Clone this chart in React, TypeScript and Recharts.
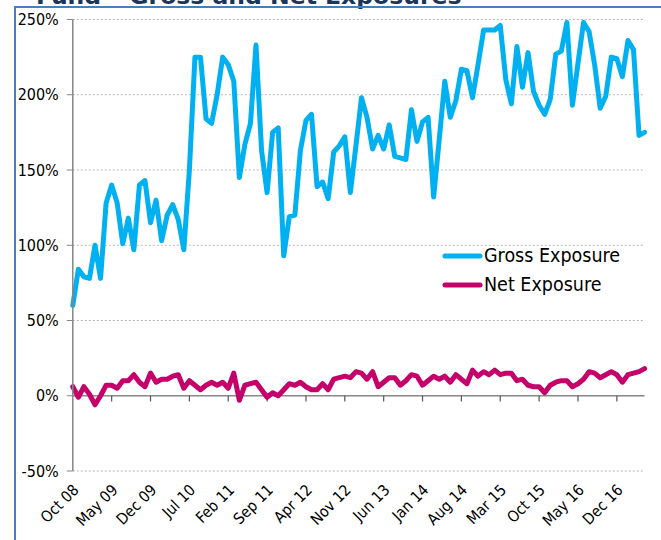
import React from 'react';
import { LineChart, Line, XAxis, YAxis, CartesianGrid, ReferenceLine, Legend } from 'recharts';

const FONT = "'DejaVu Sans Condensed', 'DejaVu Sans', sans-serif";

const MONTH_NAMES = ['Jan', 'Feb', 'Mar', 'Apr', 'May', 'Jun', 'Jul', 'Aug', 'Sep', 'Oct', 'Nov', 'Dec'];
const START_YEAR = 2008;
const START_MONTH = 9; // October

const GROSS = [
  60, 84, 79, 78, 100, 78, 128, 140, 128, 101,
  118, 97, 140, 143, 115, 130, 103, 120, 127, 117,
  97, 150, 225, 225, 184, 181, 200, 225, 220, 209,
  145, 167, 181, 233, 163, 135, 175, 178, 93, 119,
  120, 163, 183, 187, 139, 142, 131, 162, 166, 172,
  135, 166, 198, 185, 164, 173, 164, 180, 159, 158,
  157, 190, 169, 182, 185, 132, 170, 209, 185, 196,
  217, 216, 198, 220, 243, 243, 243, 246, 210, 194,
  232, 205, 228, 202, 193, 187, 197, 227, 229, 248,
  193, 221, 248, 242, 220, 191, 199, 225, 224, 212,
  236, 230, 173, 175,
];

const NET = [
  6, -1, 6, 1, -6, 0, 7, 7, 5, 10,
  10, 14, 9, 6, 15, 9, 11, 11, 13, 14,
  5, 10, 7, 4, 7, 9, 7, 9, 5, 15,
  -3, 7, 8, 9, 4, -1, 2, 0, 4, 8,
  7, 9, 6, 4, 4, 8, 4, 11, 12, 13,
  12, 16, 15, 11, 16, 6, 9, 12, 12, 7,
  10, 14, 13, 7, 10, 13, 11, 13, 9, 14,
  11, 8, 17, 13, 16, 14, 17, 14, 15, 15,
  10, 11, 7, 6, 6, 2, 7, 9, 10, 10,
  6, 8, 11, 16, 15, 12, 14, 16, 14, 9,
  14, 15, 16, 18,
];

const CATEGORIES = GROSS.map((_, i) => {
  const m = START_MONTH + i;
  const y = START_YEAR + Math.floor(m / 12);
  return `${MONTH_NAMES[m % 12]} ${String(y % 100).padStart(2, '0')}`;
});

const TICK_LABELS = [
  'Oct 08', 'May 09', 'Dec 09', 'Jul 10', 'Feb 11', 'Sep 11', 'Apr 12', 'Nov 12',
  'Jun 13', 'Jan 14', 'Aug 14', 'Mar 15', 'Oct 15', 'May 16', 'Dec 16',
];

const Y_TICKS = [-50, 0, 50, 100, 150, 200, 250];

const SERIES = [
  { key: 'gross', name: 'Gross Exposure', color: '#00b0f0' },
  { key: 'net', name: 'Net Exposure', color: '#c5006a' },
];

const TITLE = 'Fund \u2013 Gross and Net Exposures';

const data = CATEGORIES.map((month, i) => ({ month, gross: GROSS[i], net: NET[i] }));

const XTick = (props: any) => {
  const { x, y, payload } = props;
  const ax = x + 7;
  const ay = y + 20;
  return (
    <text
      x={ax}
      y={ay}
      transform={`rotate(-45 ${ax} ${ay})`}
      textAnchor="end"
      fontSize={15.5}
      fontFamily={FONT}
      fill="#000"
    >
      {payload.value}
    </text>
  );
};

const renderLegend = (props: any) => {
  const payload = props.payload || [];
  return (
    <div>
      {payload.map((p: any) => (
        <div key={p.value} style={{ display: 'flex', alignItems: 'center', height: 28.5 }}>
          <svg width={41} height={10} style={{ display: 'block' }}>
            <line x1={3} y1={5} x2={38} y2={5} stroke={p.color} strokeWidth={5} strokeLinecap="round" />
          </svg>
          <span style={{ fontSize: 19.5, fontFamily: FONT, color: '#000', marginLeft: 1, lineHeight: '28px' }}>
            {p.value}
          </span>
        </div>
      ))}
    </div>
  );
};

export default function App() {
  return (
    <div style={{ position: 'fixed', left: 0, top: 0, width: 661, height: 540, overflow: 'hidden', background: '#fff' }}>
      <svg width={661} height={540} style={{ position: 'absolute', left: 0, top: 0 }}>
        <text x={36} y={4} fontSize={23.5} fontWeight="bold" fontFamily="'DejaVu Sans', sans-serif" fill="#17375e">
          {TITLE}
        </text>
      </svg>
      <div
        style={{
          position: 'absolute',
          left: 14,
          top: 6,
          width: 700,
          height: 600,
          borderLeft: '2px solid #4a7ebb',
          borderTop: '2px solid #4a7ebb',
        }}
      />
      <div style={{ position: 'absolute', left: 0, top: 0 }}>
        <LineChart width={661} height={540} data={data} margin={{ top: 19.5, right: 16.4, bottom: 9, left: 12.8 }}>
          <CartesianGrid vertical={false} stroke="#b8b8b8" strokeDasharray="2 2" />
          <XAxis
            dataKey="month"
            ticks={TICK_LABELS}
            interval={0}
            axisLine={false}
            tickLine={false}
            tickSize={0}
            tickMargin={0}
            height={60}
            tick={<XTick />}
          />
          <YAxis
            domain={[-50, 250]}
            ticks={Y_TICKS}
            interval={0}
            tickFormatter={(v: number) => `${v}%`}
            axisLine={{ stroke: '#868686', strokeWidth: 1.5 }}
            tickLine={{ stroke: '#868686', strokeWidth: 1 }}
            tickSize={6}
            tickMargin={8}
            width={60}
            tick={{ fill: '#000', fontSize: 16, fontFamily: FONT }}
          />
          <ReferenceLine y={0} stroke="#8a8a8a" strokeWidth={1.5} />
          {TICK_LABELS.slice(1).map((t) => (
            <ReferenceLine
              key={t}
              segment={[
                { x: t, y: 0 },
                { x: t, y: -3.8 },
              ]}
              stroke="#555"
              strokeWidth={1.2}
            />
          ))}
          {SERIES.map((s) => (
            <Line
              key={s.key}
              type="linear"
              dataKey={s.key}
              name={s.name}
              stroke={s.color}
              strokeWidth={5}
              strokeLinejoin="round"
              strokeLinecap="round"
              dot={false}
              activeDot={false}
              isAnimationActive={false}
            />
          ))}
          <Legend
            layout="vertical"
            align="center"
            verticalAlign="middle"
            content={renderLegend}
            wrapperStyle={{ position: 'absolute', left: 442, top: 242, width: 215, height: 58 }}
          />
        </LineChart>
      </div>
    </div>
  );
}
